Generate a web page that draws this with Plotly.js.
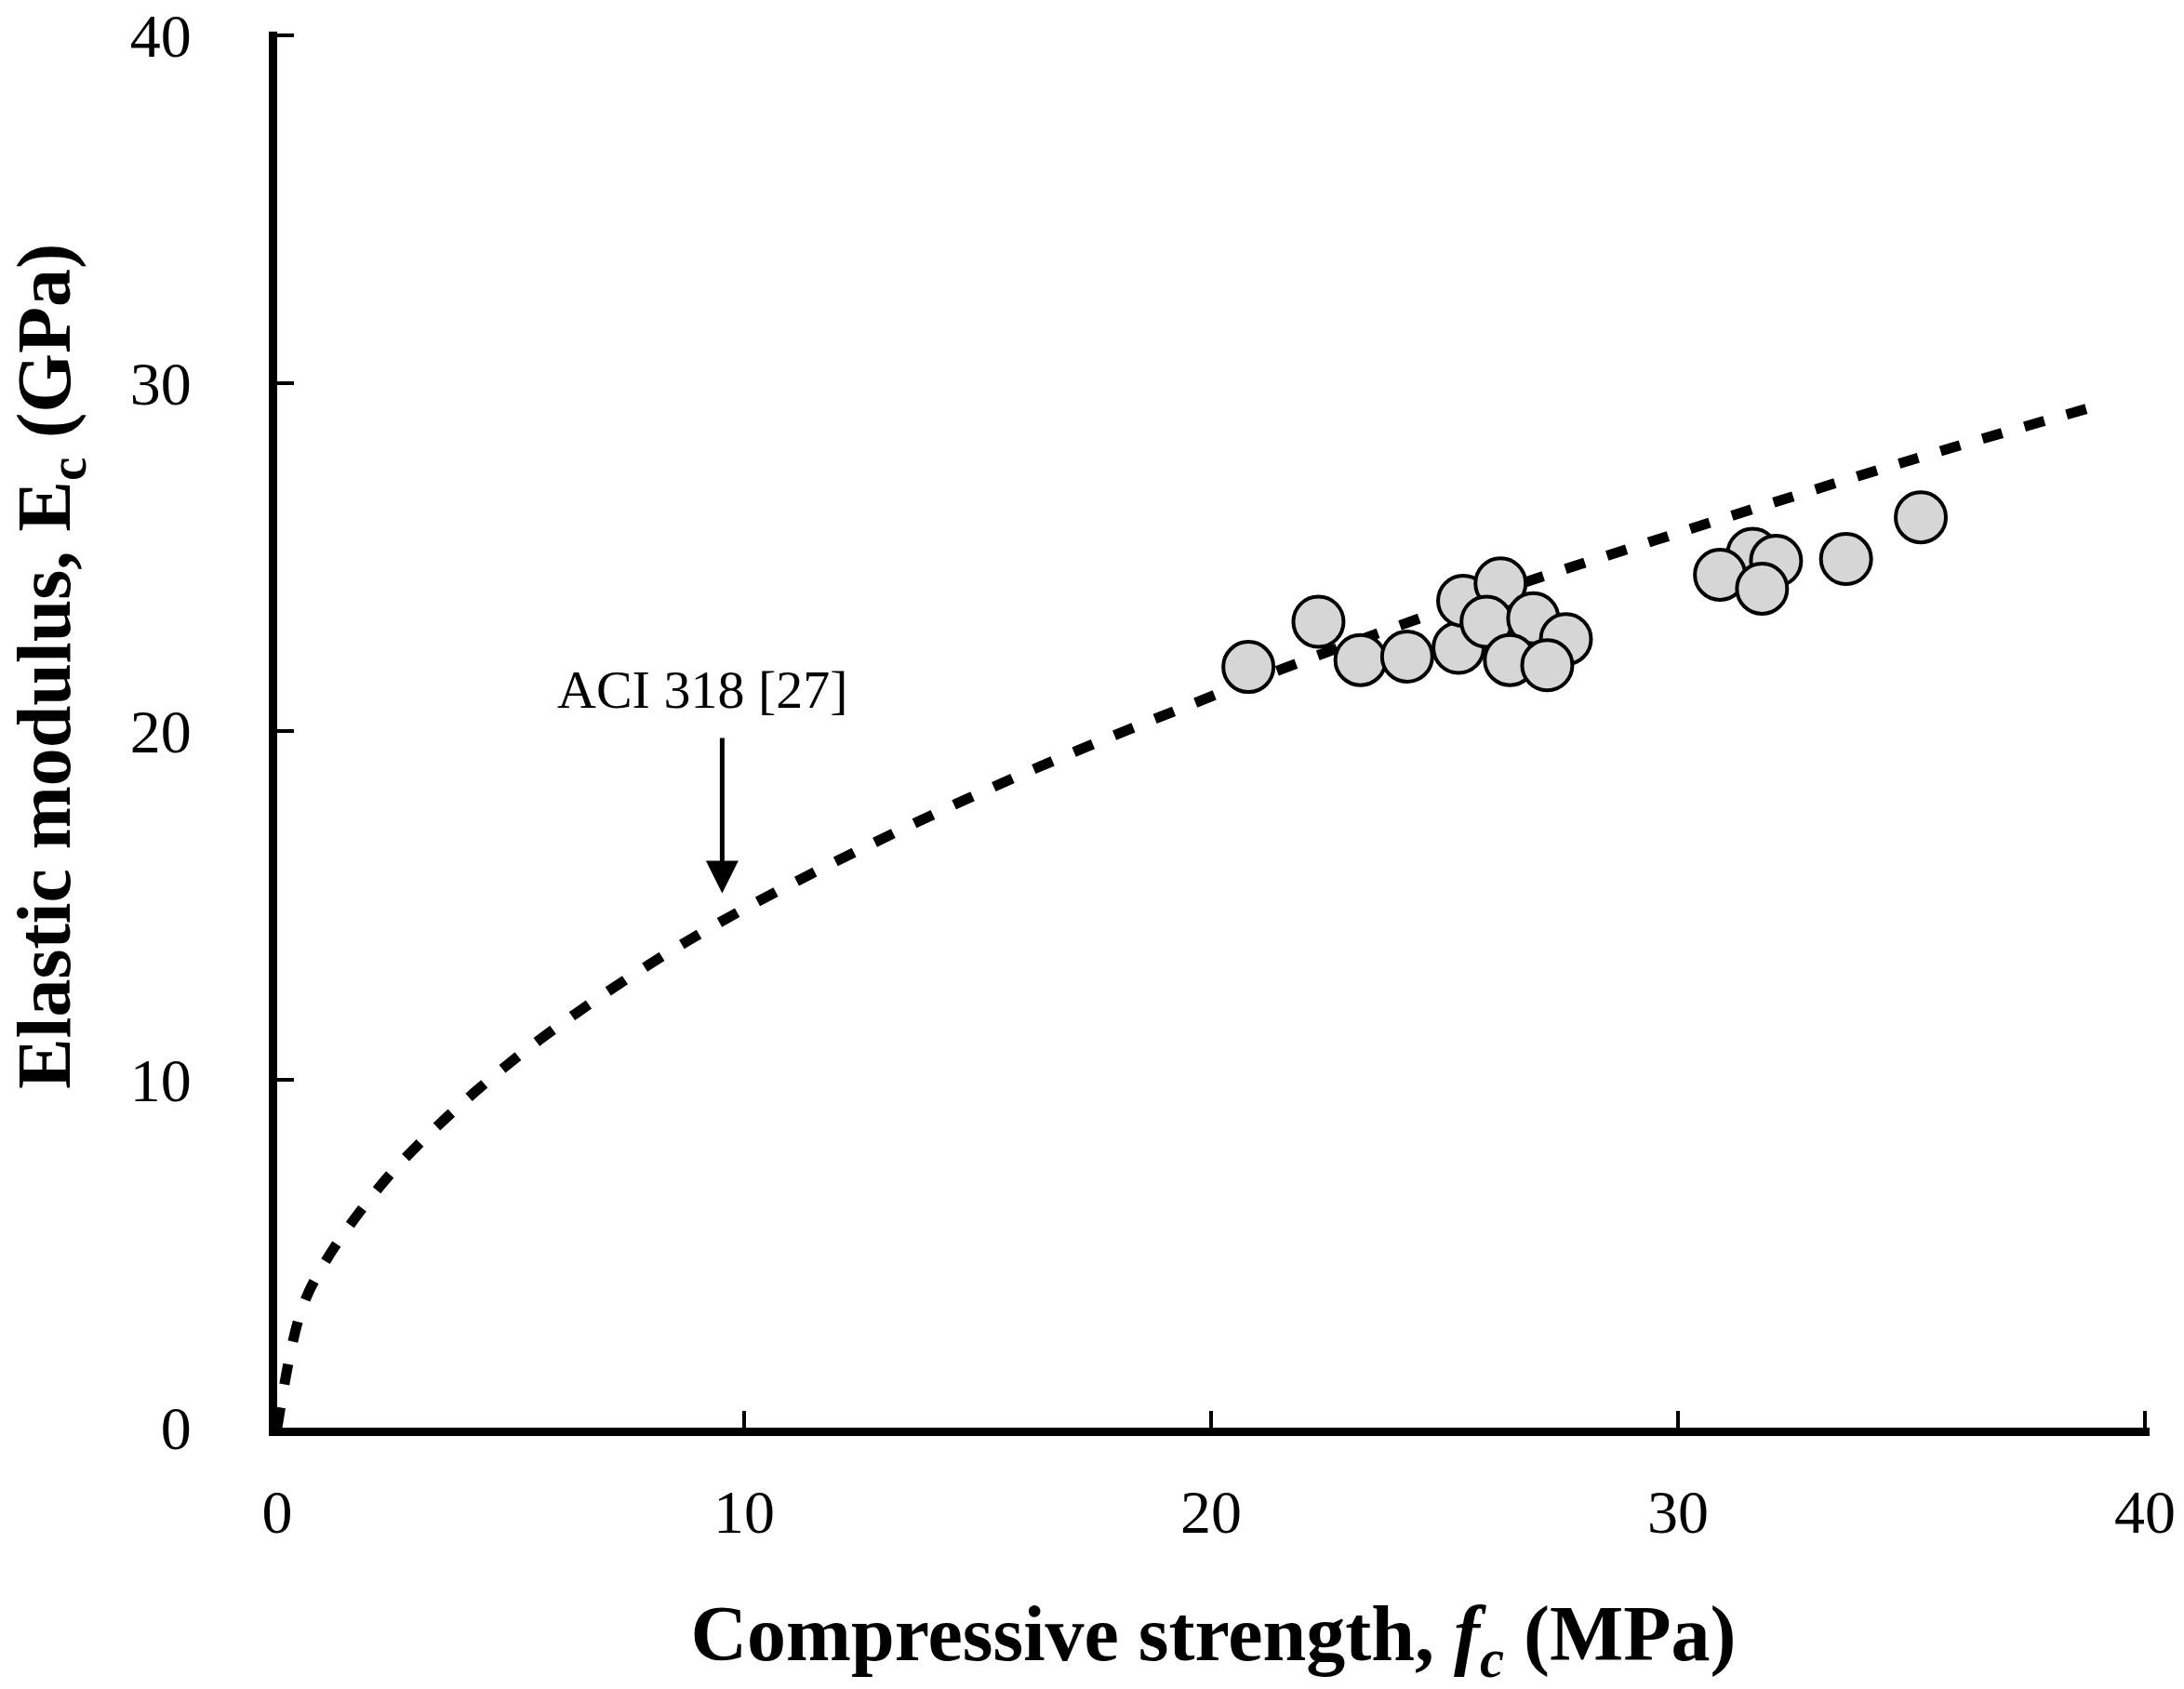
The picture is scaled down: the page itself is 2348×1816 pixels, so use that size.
<!DOCTYPE html>
<html>
<head>
<meta charset="utf-8">
<script src="https://cdn.plot.ly/plotly-3.0.1.min.js"></script>
<style>
  html, body { margin: 0; padding: 0; background: #fff; }
  #chart { width: 2348px; height: 1816px; }
</style>
</head>
<body>
<div id="chart"></div>
<script>
// measured points: compressive strength (MPa) vs elastic modulus (GPa)
var fc = [20.8, 22.3, 23.2, 24.2, 25.3, 25.4, 26.2, 25.9, 26.9, 26.4, 27.6, 27.2,
          31.6, 32.1, 30.9, 31.8, 33.6, 35.2];
var Ec = [21.85, 23.15, 22.05, 22.15, 22.4, 23.75, 24.25, 23.15, 23.25, 22.05, 22.65, 21.9,
          25.1, 24.9, 24.5, 24.1, 24.95, 26.15];

// ACI 318 curve
var aciX = [0, 0.5, 1, 2, 3, 5, 7.5, 10, 15, 20, 25, 30, 35, 39.1];
var aciY = [0, 3.3, 4.7, 6.6, 8.1, 10.5, 12.9, 14.9, 18.2, 21.0, 23.5, 25.7, 27.8, 29.4];

var tickVals = [0, 10, 20, 30, 40];
var tickText = ["0", "10", "20", "30", "40"];

var serif = "Liberation Serif, Times New Roman, serif";

var curve = {
  x: aciX, y: aciY,
  mode: "lines",
  line: { color: "black", width: 11, dash: "22px,25px", shape: "spline" },
  hoverinfo: "skip",
  cliponaxis: false
};

var points = {
  x: fc, y: Ec,
  mode: "markers",
  marker: { size: 54, color: "#d6d6d6", line: { color: "black", width: 4 } },
  cliponaxis: false
};

var layout = {
  width: 2348,
  height: 1816,
  showlegend: false,
  paper_bgcolor: "white",
  plot_bgcolor: "white",
  margin: { l: 298, r: 37, t: 34, b: 281 },
  font: { family: serif, color: "black", size: 66 },
  xaxis: {
    range: [0, 40.1],
    tickvals: tickVals, ticktext: tickText,
    ticks: "inside", ticklen: 18, tickwidth: 4, tickcolor: "black",
    showline: true, linewidth: 9, linecolor: "black",
    showgrid: false, zeroline: false,
    ticklabelstandoff: 25,
    ticklabeloverflow: "allow",
    tickfont: { family: serif, size: 66 },
    title: { text: "<b>Compressive strength, <i>f<sub>c</sub></i> (MPa)</b>",
             font: { family: serif, size: 84 }, standoff: 69 }
  },
  yaxis: {
    range: [0, 40.1],
    tickvals: tickVals, ticktext: tickText,
    ticks: "inside", ticklen: 18, tickwidth: 4, tickcolor: "black",
    showline: true, linewidth: 9, linecolor: "black",
    showgrid: false, zeroline: false,
    ticklabelstandoff: 70,
    ticklabeloverflow: "allow",
    tickfont: { family: serif, size: 66 }
  },
  annotations: [
    {
      // y axis title, sits a little above the axis middle as in the original
      x: -0.1217, y: 0.545, xref: "paper", yref: "paper",
      xanchor: "center", yanchor: "middle", textangle: -90,
      text: "<b>Elastic modulus, E<sub>c</sub> (GPa)</b>", showarrow: false,
      font: { family: serif, size: 82, color: "black" }
    },
    {
      x: 9.12, y: 21.2, xref: "x", yref: "y",
      text: "ACI 318 [27]", showarrow: false,
      font: { family: serif, size: 58, color: "black" }
    },
    {
      x: 9.53, y: 15.35, xref: "x", yref: "y",
      ax: 9.53, ay: 19.85, axref: "x", ayref: "y",
      text: "", showarrow: true,
      arrowhead: 2, arrowsize: 1.4, arrowwidth: 5, arrowcolor: "black"
    }
  ]
};

Plotly.newPlot("chart", [curve, points], layout, { staticPlot: true });
</script>
</body>
</html>
